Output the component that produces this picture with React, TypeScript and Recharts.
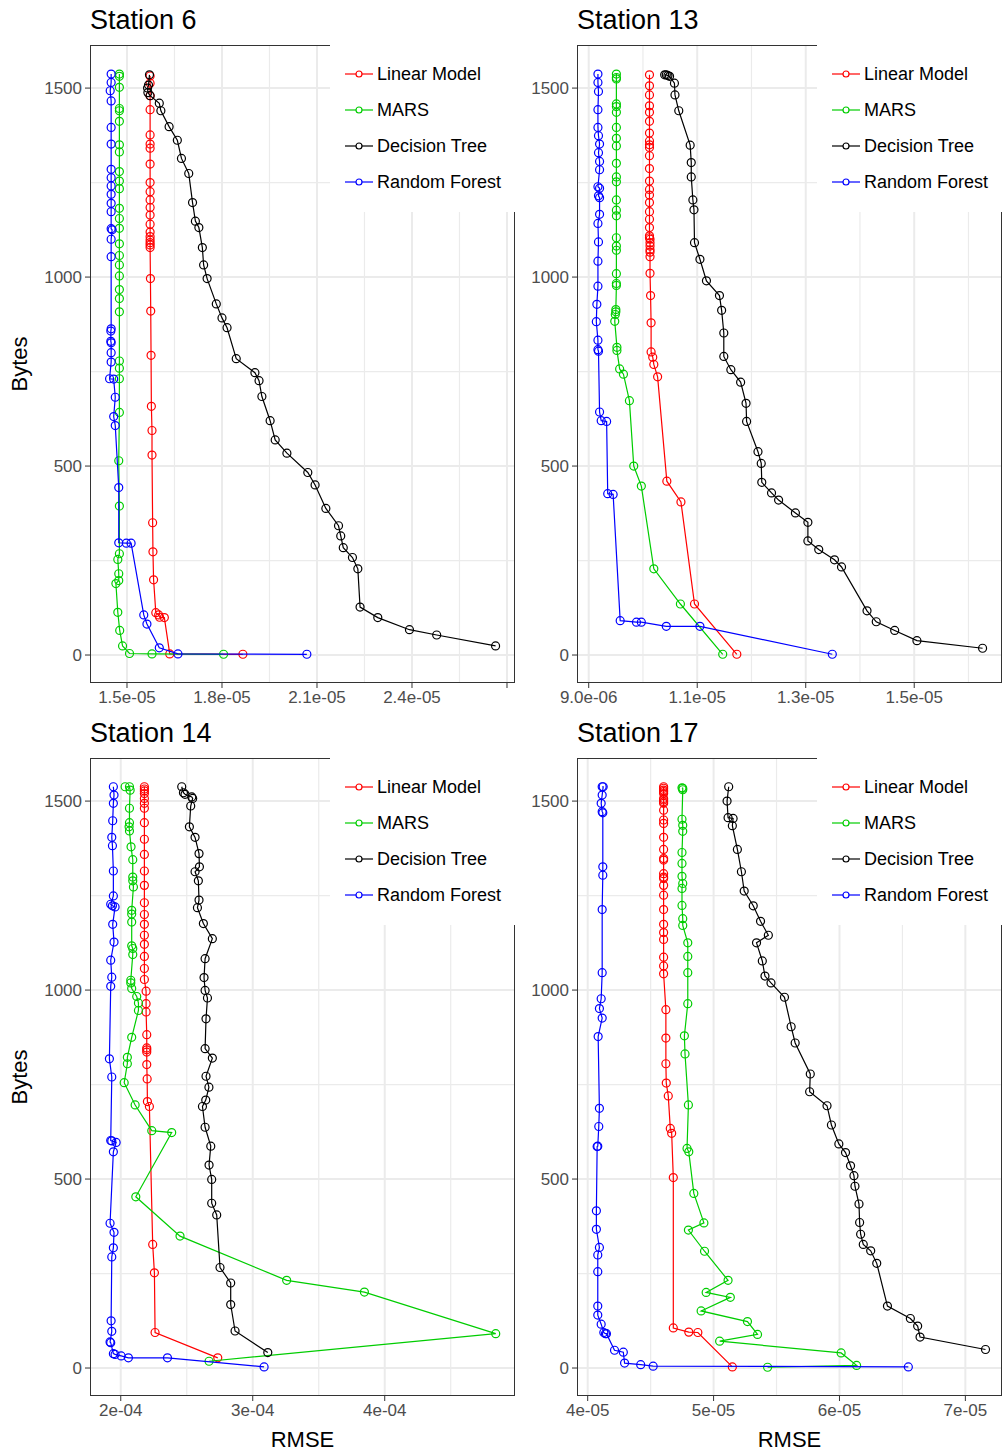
import { ScatterChart, Scatter, XAxis, YAxis, CartesianGrid } from "recharts";

const FONT = '"Liberation Sans", Arial, Helvetica, sans-serif';

const models = ["Linear Model", "MARS", "Decision Tree", "Random Forest"];
const modelColors = ["#FF0000", "#00CD00", "#000000", "#0000FF"];

const yTicks = [0, 500, 1000, 1500];
const yMinor = [250, 750, 1250];
const yDomain = [-74, 1614];

// Station 6, RMSE in units of 1e-5, then bytes
const s6Linear = [[1.573,1532],[1.573,1513],[1.573,1480],[1.573,1443],[1.573,1376],[1.573,1352],[1.573,1341],[1.573,1299],[1.573,1250],[1.573,1226],[1.573,1204],[1.573,1184],[1.573,1164],[1.573,1140],[1.573,1119],[1.573,1107],[1.573,1098],[1.573,1091],[1.573,1085],[1.573,1078],[1.574,996],[1.575,910],[1.576,793],[1.577,658],[1.579,594],[1.579,529],[1.581,350],[1.582,273],[1.584,199],[1.591,112],[1.600,106],[1.603,100],[1.618,99],[1.635,3],[1.866,2]];
const s6Mars = [[1.476,1537],[1.476,1531],[1.476,1502],[1.476,1446],[1.476,1440],[1.476,1412],[1.476,1350],[1.476,1331],[1.476,1279],[1.476,1254],[1.476,1234],[1.476,1182],[1.476,1155],[1.476,1129],[1.476,1088],[1.476,1057],[1.476,1032],[1.476,1003],[1.476,967],[1.476,943],[1.476,908],[1.476,778],[1.476,759],[1.476,731],[1.476,642],[1.474,514],[1.476,394],[1.476,268],[1.471,253],[1.474,215],[1.474,197],[1.465,189],[1.471,113],[1.477,65],[1.486,24],[1.508,4],[1.579,3],[1.805,2]];
const s6Tree = [[1.571,1535],[1.568,1508],[1.565,1500],[1.566,1488],[1.573,1480],[1.602,1460],[1.607,1440],[1.633,1398],[1.659,1362],[1.672,1314],[1.695,1274],[1.707,1197],[1.716,1148],[1.727,1131],[1.738,1078],[1.742,1032],[1.753,996],[1.782,929],[1.800,892],[1.816,866],[1.845,784],[1.904,747],[1.917,726],[1.926,684],[1.952,620],[1.968,569],[2.005,534],[2.071,483],[2.094,450],[2.128,388],[2.168,342],[2.175,315],[2.183,284],[2.212,258],[2.229,228],[2.236,127],[2.292,99],[2.392,67],[2.478,53],[2.664,24]];
const s6Forest = [[1.450,1537],[1.450,1515],[1.447,1493],[1.450,1466],[1.450,1396],[1.450,1352],[1.450,1285],[1.450,1263],[1.450,1241],[1.450,1219],[1.450,1195],[1.450,1173],[1.450,1128],[1.453,1125],[1.450,1100],[1.450,1054],[1.450,863],[1.449,857],[1.449,830],[1.450,826],[1.450,800],[1.450,775],[1.445,731],[1.458,730],[1.463,682],[1.458,631],[1.463,607],[1.474,443],[1.474,297],[1.498,296],[1.513,296],[1.553,106],[1.563,82],[1.602,19],[1.661,3],[2.068,2]];

// Station 13, RMSE in units of 1e-5
const s13Linear = [[1.012,1535],[1.012,1506],[1.012,1482],[1.012,1453],[1.012,1436],[1.012,1412],[1.012,1381],[1.012,1360],[1.012,1350],[1.012,1343],[1.012,1321],[1.012,1287],[1.012,1254],[1.012,1232],[1.012,1217],[1.012,1197],[1.012,1173],[1.012,1153],[1.012,1131],[1.012,1109],[1.012,1104],[1.013,1100],[1.013,1091],[1.013,1082],[1.013,1072],[1.013,1066],[1.013,1054],[1.013,1010],[1.014,951],[1.015,879],[1.015,802],[1.018,788],[1.020,769],[1.027,736],[1.044,460],[1.070,405],[1.095,135],[1.173,2]];
const s13Mars = [[0.951,1537],[0.951,1528],[0.951,1524],[0.951,1458],[0.951,1451],[0.951,1436],[0.951,1396],[0.951,1367],[0.951,1347],[0.951,1301],[0.951,1265],[0.951,1252],[0.951,1204],[0.951,1177],[0.951,1162],[0.951,1104],[0.951,1082],[0.951,1071],[0.951,1009],[0.951,983],[0.951,978],[0.950,914],[0.950,908],[0.949,901],[0.948,883],[0.952,814],[0.952,806],[0.957,757],[0.964,743],[0.975,673],[0.983,500],[0.997,447],[1.020,228],[1.069,135],[1.147,2]];
const s13Tree = [[1.040,1535],[1.043,1535],[1.046,1533],[1.049,1531],[1.058,1513],[1.059,1482],[1.066,1440],[1.087,1349],[1.089,1303],[1.089,1265],[1.092,1204],[1.094,1178],[1.095,1091],[1.105,1047],[1.117,990],[1.141,951],[1.145,912],[1.149,852],[1.149,790],[1.162,755],[1.180,722],[1.190,666],[1.191,618],[1.212,538],[1.218,507],[1.219,457],[1.237,429],[1.250,410],[1.281,376],[1.304,351],[1.304,302],[1.324,279],[1.353,252],[1.366,233],[1.413,117],[1.430,88],[1.464,65],[1.505,38],[1.626,18]];
const s13Forest = [[0.917,1537],[0.917,1515],[0.918,1491],[0.917,1443],[0.917,1396],[0.918,1374],[0.920,1352],[0.918,1329],[0.920,1306],[0.920,1284],[0.917,1239],[0.920,1235],[0.918,1215],[0.920,1210],[0.920,1166],[0.917,1142],[0.918,1093],[0.917,1042],[0.917,976],[0.915,928],[0.914,882],[0.917,833],[0.917,808],[0.918,804],[0.920,643],[0.923,620],[0.933,618],[0.935,427],[0.945,425],[0.958,91],[0.988,87],[0.997,87],[1.043,76],[1.105,76],[1.349,2]];

// Station 14, RMSE in units of 1e-4
const s14Linear = [[2.179,1538],[2.179,1532],[2.179,1527],[2.179,1520],[2.179,1507],[2.179,1494],[2.179,1481],[2.179,1443],[2.179,1399],[2.179,1359],[2.179,1315],[2.179,1277],[2.179,1231],[2.179,1200],[2.179,1174],[2.179,1145],[2.179,1121],[2.179,1089],[2.179,1057],[2.179,1028],[2.192,997],[2.192,964],[2.192,942],[2.197,882],[2.197,847],[2.197,842],[2.197,836],[2.197,803],[2.200,765],[2.202,705],[2.217,692],[2.242,327],[2.255,252],[2.260,94],[2.735,27]];
const s14Mars = [[2.033,1538],[2.066,1538],[2.071,1529],[2.066,1481],[2.066,1443],[2.063,1432],[2.066,1421],[2.078,1379],[2.091,1345],[2.091,1299],[2.091,1289],[2.096,1273],[2.083,1211],[2.083,1201],[2.083,1180],[2.083,1117],[2.091,1110],[2.091,1094],[2.076,1026],[2.076,1019],[2.083,1004],[2.121,983],[2.134,966],[2.134,946],[2.083,875],[2.050,822],[2.050,805],[2.026,755],[2.109,696],[2.235,628],[2.386,623],[2.114,453],[2.449,349],[3.257,232],[3.846,201],[4.841,91],[2.669,18]];
const s14Tree = [[2.462,1538],[2.475,1522],[2.487,1518],[2.538,1511],[2.545,1507],[2.530,1487],[2.520,1432],[2.563,1404],[2.593,1361],[2.596,1326],[2.563,1313],[2.588,1289],[2.593,1238],[2.581,1218],[2.626,1176],[2.694,1136],[2.639,1083],[2.631,1033],[2.639,999],[2.657,979],[2.646,924],[2.639,845],[2.694,820],[2.646,772],[2.668,743],[2.644,709],[2.619,692],[2.639,637],[2.682,587],[2.669,537],[2.689,499],[2.689,436],[2.727,405],[2.752,266],[2.833,225],[2.833,168],[2.866,98],[3.114,41]];
const s14Forest = [[1.944,1538],[1.949,1516],[1.944,1494],[1.939,1448],[1.932,1404],[1.937,1382],[1.944,1315],[1.944,1249],[1.924,1227],[1.937,1223],[1.957,1220],[1.939,1174],[1.949,1127],[1.924,1079],[1.932,1034],[1.924,1010],[1.914,818],[1.932,770],[1.924,602],[1.932,601],[1.965,597],[1.944,572],[1.919,383],[1.949,359],[1.944,318],[1.932,294],[1.927,125],[1.932,97],[1.919,69],[1.924,67],[1.944,38],[1.957,36],[2.003,32],[2.058,27],[2.354,27],[3.086,3]];

// Station 17, RMSE in units of 1e-5
const s17Linear = [[4.603,1538],[4.603,1534],[4.603,1529],[4.603,1525],[4.603,1520],[4.603,1507],[4.603,1503],[4.603,1498],[4.603,1494],[4.603,1476],[4.603,1450],[4.603,1441],[4.603,1404],[4.603,1372],[4.603,1348],[4.603,1344],[4.603,1308],[4.603,1299],[4.603,1295],[4.603,1277],[4.603,1251],[4.603,1213],[4.603,1174],[4.603,1152],[4.603,1134],[4.603,1087],[4.603,1064],[4.603,1043],[4.621,948],[4.621,873],[4.621,805],[4.624,754],[4.640,720],[4.656,634],[4.667,621],[4.680,504],[4.680,106],[4.803,95],[4.875,94],[5.149,3]];
const s17Mars = [[4.749,1535],[4.755,1534],[4.755,1530],[4.749,1452],[4.755,1436],[4.755,1420],[4.749,1364],[4.749,1335],[4.749,1301],[4.755,1282],[4.749,1269],[4.749,1224],[4.755,1189],[4.755,1171],[4.795,1125],[4.795,1089],[4.795,1046],[4.795,964],[4.768,879],[4.773,831],[4.800,696],[4.789,581],[4.803,572],[4.843,462],[4.923,384],[4.800,365],[4.928,309],[5.115,232],[4.941,200],[5.133,187],[4.901,151],[5.269,123],[5.349,89],[5.048,71],[6.013,40],[6.136,7],[5.429,2]];
const s17Tree = [[5.120,1538],[5.107,1500],[5.115,1456],[5.155,1454],[5.149,1435],[5.189,1372],[5.221,1313],[5.243,1262],[5.315,1223],[5.373,1182],[5.435,1145],[5.341,1125],[5.387,1077],[5.408,1037],[5.456,1019],[5.563,981],[5.616,903],[5.648,860],[5.768,778],[5.763,731],[5.901,694],[5.936,643],[5.995,593],[6.048,570],[6.088,535],[6.115,509],[6.123,481],[6.155,434],[6.160,385],[6.168,354],[6.189,327],[6.248,310],[6.296,277],[6.381,164],[6.563,131],[6.621,111],[6.640,82],[7.160,49]];
const s17Forest = [[4.115,1538],[4.123,1538],[4.115,1516],[4.107,1494],[4.115,1472],[4.120,1469],[4.120,1326],[4.120,1304],[4.115,1213],[4.115,1046],[4.107,977],[4.093,951],[4.115,926],[4.083,877],[4.093,687],[4.088,639],[4.080,587],[4.075,586],[4.069,416],[4.069,367],[4.093,319],[4.080,299],[4.080,255],[4.080,164],[4.080,140],[4.107,116],[4.128,94],[4.141,91],[4.149,91],[4.213,47],[4.283,42],[4.293,13],[4.421,9],[4.520,5],[6.547,3]];

const s6Ticks = [1.5, 1.8, 2.1, 2.4, 2.7];
const s6Labels = ["1.5e-05", "1.8e-05", "2.1e-05", "2.4e-05", ""];
const s6Minor = [1.65, 1.95, 2.25, 2.55];
const s13Ticks = [0.9, 1.1, 1.3, 1.5];
const s13Labels = ["9.0e-06", "1.1e-05", "1.3e-05", "1.5e-05"];
const s13Minor = [1.0, 1.2, 1.4, 1.6];
const s14Ticks = [2, 3, 4];
const s14Labels = ["2e-04", "3e-04", "4e-04"];
const s14Minor = [2.5, 3.5, 4.5];
const s17Ticks = [4, 5, 6, 7];
const s17Labels = ["4e-05", "5e-05", "6e-05", "7e-05"];
const s17Minor = [4.5, 5.5, 6.5];

const PW = 425;
const PH = 638;
const YW = 60;
const XH = 40;

const toPts = (arr: number[][]) => arr.map(([x, y]) => ({ x, y }));

const hollow = (color: string) => (props: any) => (
  <circle cx={props.cx} cy={props.cy} r={4} fill="none" stroke={color} strokeWidth={1.2} />
);

type PanelProps = {
  title: string;
  left: number;
  top: number;
  domain: number[];
  ticks: number[];
  labels: string[];
  minor: number[];
  series: number[][][];
  bytes: boolean;
  rmse: boolean;
};

const Panel = ({ title, left, top, domain, ticks, labels, minor, series, bytes, rmse }: PanelProps) => {
  const tickStyle = { fill: "#4D4D4D", fontSize: 17, fontFamily: FONT };
  return (
    <>
      <div style={{ position: "absolute", left, top: top - 40, fontSize: 27, fontFamily: FONT, lineHeight: "30px", color: "#000" }}>
        {title}
      </div>
      <div style={{ position: "absolute", left: left - YW, top }}>
        <ScatterChart width={YW + PW} height={PH + XH} margin={{ top: 0, right: 0, bottom: 0, left: 0 }}>
          <CartesianGrid stroke="#EBEBEB" strokeWidth={1.2} horizontalValues={yMinor} verticalValues={minor} />
          <CartesianGrid stroke="#EBEBEB" strokeWidth={2} horizontalValues={yTicks} verticalValues={ticks} />
          <XAxis
            type="number"
            dataKey="x"
            domain={domain}
            ticks={ticks}
            allowDataOverflow
            interval={0}
            height={XH}
            axisLine={false}
            tickSize={5}
            tickMargin={3}
            tickLine={{ stroke: "#333" }}
            tick={tickStyle}
            tickFormatter={(_v: number, i: number) => labels[i]}
          />
          <YAxis
            type="number"
            dataKey="y"
            domain={yDomain}
            ticks={yTicks}
            allowDataOverflow
            interval={0}
            width={YW}
            axisLine={false}
            tickSize={5}
            tickMargin={3}
            tickLine={{ stroke: "#333" }}
            tick={tickStyle}
          />
          {series.map((s, i) => (
            <Scatter
              key={models[i]}
              name={models[i]}
              data={toPts(s)}
              fill="none"
              stroke={modelColors[i]}
              line={{ stroke: modelColors[i], strokeWidth: 1.2 }}
              shape={hollow(modelColors[i])}
              isAnimationActive={false}
            />
          ))}
        </ScatterChart>
      </div>
      <div style={{ position: "absolute", left, top, width: PW, height: PH, border: "1px solid #333", boxSizing: "border-box", pointerEvents: "none" }} />
      <div style={{ position: "absolute", left: left + 240, top: top - 1, width: 188, height: 168, background: "#fff" }}>
        {models.map((m, i) => (
          <div key={m} style={{ position: "absolute", left: 15, top: 20 + i * 36, height: 20, display: "flex", alignItems: "center", fontFamily: FONT, fontSize: 18, color: "#000", whiteSpace: "nowrap" }}>
            <svg width={30} height={20} style={{ marginRight: 2 }}>
              <line x1={0} y1={10} x2={28} y2={10} stroke={modelColors[i]} strokeWidth={1.2} />
              <circle cx={14} cy={10} r={3} fill="#fff" stroke={modelColors[i]} strokeWidth={1.2} />
            </svg>
            {m}
          </div>
        ))}
      </div>
      {bytes && (
        <div style={{ position: "absolute", left: 20, top: top + PH / 2, transform: "translate(-50%, -50%) rotate(-90deg)", fontFamily: FONT, fontSize: 22, color: "#000" }}>
          Bytes
        </div>
      )}
      {rmse && (
        <div style={{ position: "absolute", left: left + PW / 2, top: 1440, transform: "translate(-50%, -50%)", fontFamily: FONT, fontSize: 22, color: "#000" }}>
          RMSE
        </div>
      )}
    </>
  );
};

export default function App() {
  return (
    <div style={{ position: "absolute", left: 0, top: 0, width: 1003, height: 1454, background: "#fff", overflow: "hidden" }}>
      <Panel title="Station 6" left={90} top={45} domain={[1.3832, 2.7253]} ticks={s6Ticks} labels={s6Labels} minor={s6Minor}
        series={[s6Linear, s6Mars, s6Tree, s6Forest]} bytes rmse={false} />
      <Panel title="Station 13" left={577} top={45} domain={[0.8784, 1.6618]} ticks={s13Ticks} labels={s13Labels} minor={s13Minor}
        series={[s13Linear, s13Mars, s13Tree, s13Forest]} bytes={false} rmse={false} />
      <Panel title="Station 14" left={90} top={758} domain={[1.767, 4.987]} ticks={s14Ticks} labels={s14Labels} minor={s14Minor}
        series={[s14Linear, s14Mars, s14Tree, s14Forest]} bytes rmse />
      <Panel title="Station 17" left={577} top={758} domain={[3.915, 7.291]} ticks={s17Ticks} labels={s17Labels} minor={s17Minor}
        series={[s17Linear, s17Mars, s17Tree, s17Forest]} bytes={false} rmse />
    </div>
  );
}
